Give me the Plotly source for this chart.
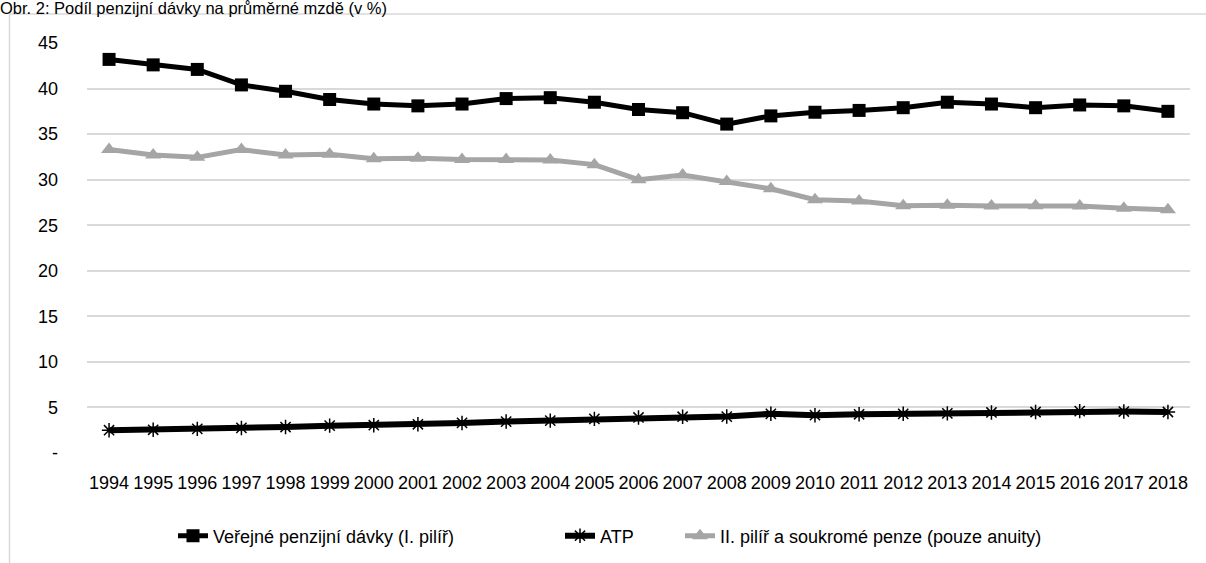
import plotly.graph_objects as go

years = [str(y) for y in range(1994, 2019)]
verejne = [43.2, 42.6, 42.1, 40.4, 39.7, 38.8, 38.3, 38.1, 38.3, 38.9, 39.0, 38.5, 37.7,
           37.35, 36.1, 37.0, 37.4, 37.6, 37.9, 38.5, 38.3, 37.9, 38.2, 38.1, 37.5]
atp = [2.5, 2.55, 2.65, 2.75, 2.85, 3.0, 3.05, 3.15, 3.3, 3.45, 3.55, 3.75, 3.9,
       3.98, 4.0, 4.3, 4.15, 4.25, 4.3, 4.35, 4.45, 4.5, 4.6, 4.55, 4.5]
druhy = [33.3, 32.7, 32.45, 33.3, 32.7, 32.8, 32.3, 32.35, 32.2, 32.2, 32.15, 31.65, 30.0,
         30.5, 29.8, 29.0, 27.8, 27.65, 27.15, 27.2, 27.1, 27.15, 27.1, 26.85, 26.7]
names = ["Veřejné penzijní dávky (I. pilíř)", "ATP", "II. pilíř a soukromé penze (pouze anuity)"]
title = "Obr. 2: Podíl penzijní dávky na průměrné mzdě (v %)"
ytickvals = [0, 5, 10, 15, 20, 25, 30, 35, 40, 45]
yticktext = ["-", "5", "10", "15", "20", "25", "30", "35", "40", "45"]

FONT = "Liberation Sans, Arial, sans-serif"

fig = go.Figure()
fig.add_trace(go.Scatter(x=years, y=verejne, name=names[0], mode="lines+markers",
                         line=dict(color="#000000", width=5), legend="legend",
                         marker=dict(symbol="square", size=13, color="#000000")))
fig.add_trace(go.Scatter(x=years, y=atp, name=names[1], mode="lines+markers",
                         line=dict(color="#000000", width=6), legend="legend2",
                         marker=dict(symbol="asterisk-open", size=12,
                                     line=dict(color="#000000", width=1.5))))
fig.add_trace(go.Scatter(x=years, y=druhy, name=names[2], mode="lines+markers",
                         line=dict(color="#a5a5a5", width=5), legend="legend3",
                         marker=dict(symbol="triangle-up", size=14, color="#a5a5a5")))

W, H = 1206, 563
L, R, T, B = 87, 16, 43, 110
ph = H - T - B
pw = W - L - R

def px_x(p):
    return (p - L) / pw

def px_y(p):
    return (H - B - p) / ph

fig.add_shape(type="rect", xref="paper", yref="paper",
              x0=px_x(9.5), x1=px_x(1230), y0=px_y(600), y1=px_y(14),
              line=dict(color="#d9d9d9", width=1.5), fillcolor="rgba(0,0,0,0)", layer="below")

fig.add_annotation(text=title, xref="paper", yref="paper", x=px_x(-2), y=px_y(19),
                   xanchor="left", yanchor="bottom", showarrow=False,
                   font=dict(family=FONT, size=16.5, color="#000000"))

def leg(xpx):
    return dict(orientation="h", x=px_x(xpx), xanchor="left", y=px_y(536), yanchor="middle",
                font=dict(family=FONT, size=18, color="#000000"), bgcolor="rgba(0,0,0,0)")

fig.update_layout(
    width=W, height=H,
    margin=dict(l=L, r=R, t=T, b=B, pad=0, autoexpand=False),
    paper_bgcolor="white", plot_bgcolor="white",
    font=dict(family=FONT, size=18, color="#000000"),
    showlegend=True,
    legend=leg(213 - 40),
    legend2=leg(600 - 40),
    legend3=leg(720 - 40),
    xaxis=dict(type="category", range=[-0.5, 24.5], tickangle=0, showgrid=False,
               showline=False, ticks="", automargin=False, ticklabelstandoff=17,
               tickfont=dict(size=18)),
    yaxis=dict(range=[0, 45], tickvals=ytickvals, ticktext=yticktext, showgrid=True,
               gridcolor="#d9d9d9", gridwidth=1.5, zeroline=False, showline=False, ticks="",
               automargin=False, ticklabelstandoff=28, tickfont=dict(size=18)),
)

fig.write_html("out.html", config={"displayModeBar": False},
               post_script="document.body.style.margin='0';")
